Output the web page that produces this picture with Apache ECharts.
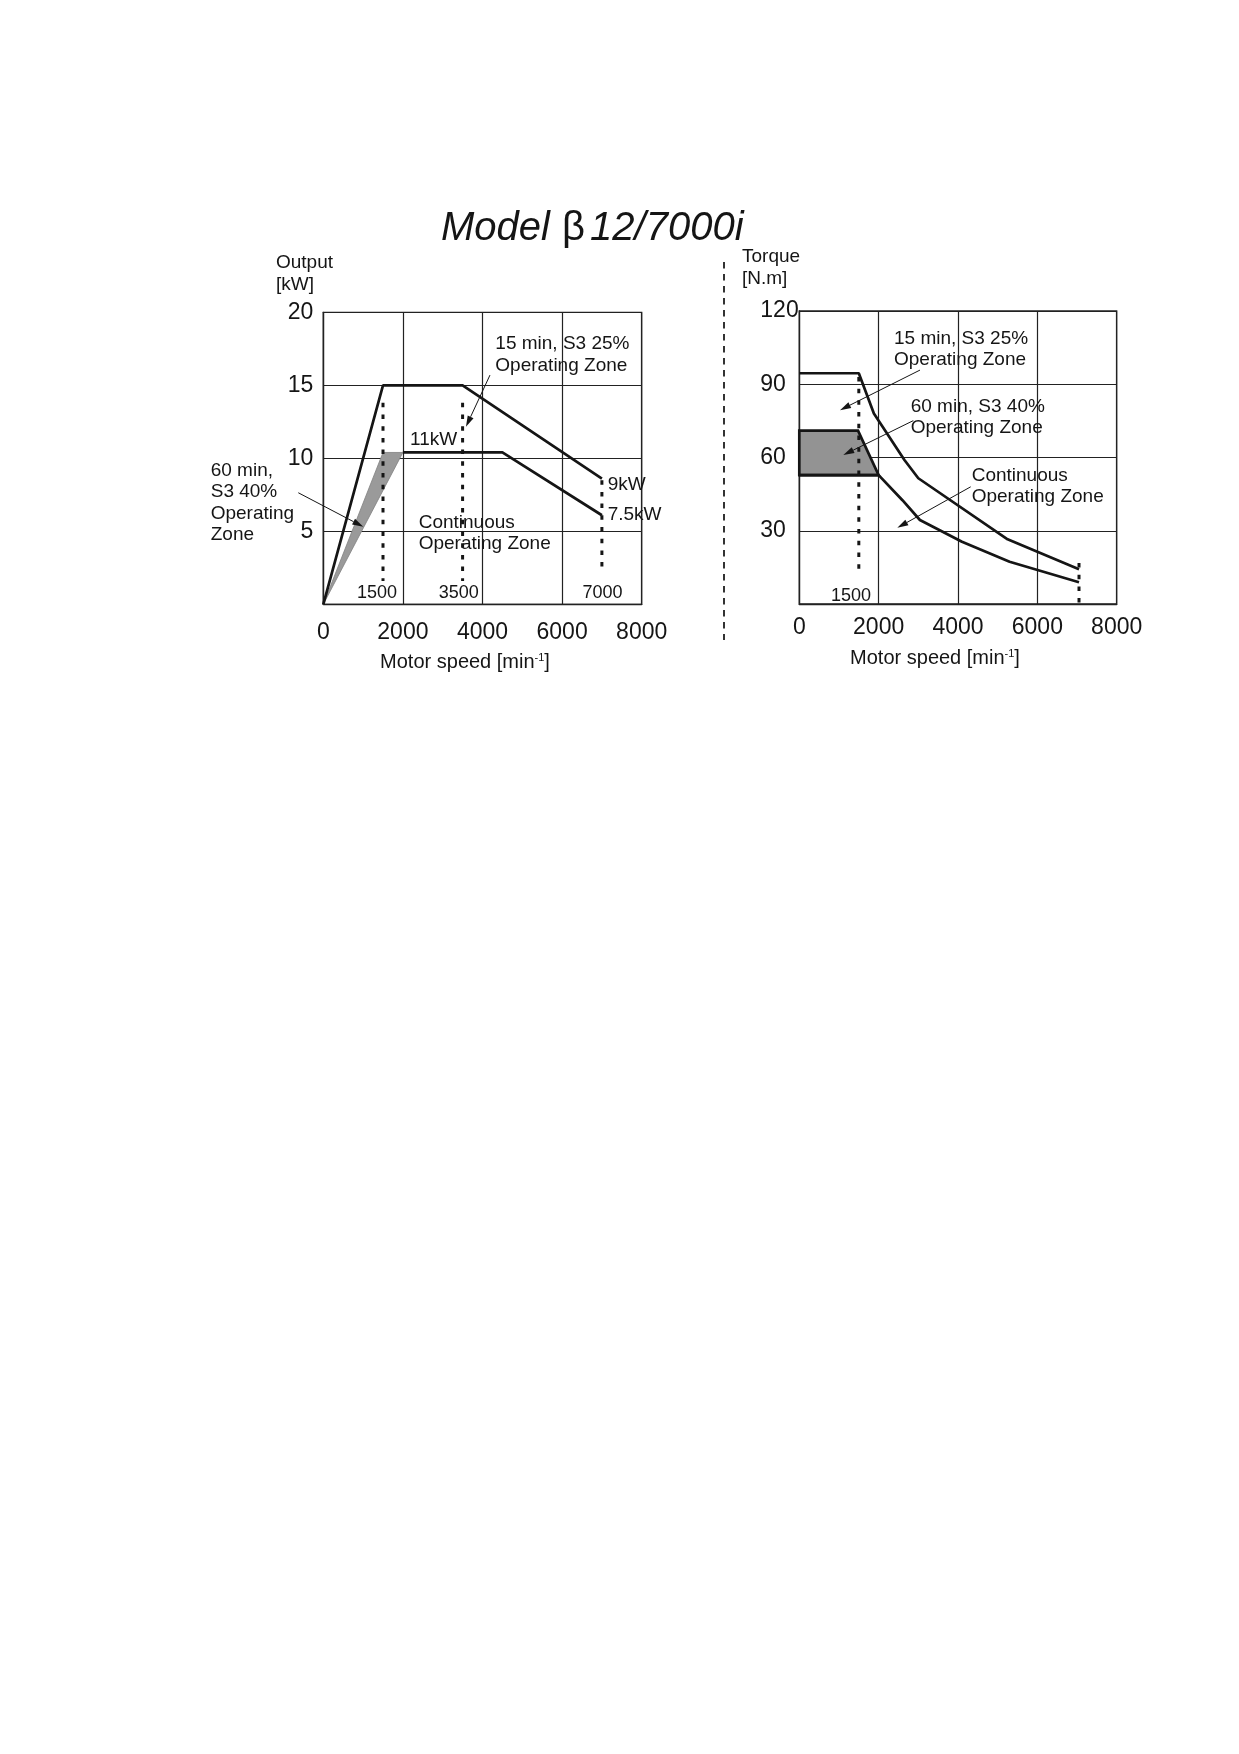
<!DOCTYPE html>
<html>
<head>
<meta charset="utf-8">
<title>Model β12/7000i</title>
<script src="https://cdn.jsdelivr.net/npm/echarts@6/dist/echarts.min.js"></script>
<style>
  html, body { margin: 0; padding: 0; background: #fff; }
  #main { width: 1239px; height: 1754px; }
</style>
</head>
<body>
<div id="main"></div>
<script>
// output chart: [speed min-1, output kW]
const outS3_25 = [[0, 0], [1500, 15], [3500, 15], [7000, 8.6]]
const outCont = [[2000, 10.4], [4500, 10.4], [7000, 6.1]]
const outS3_40 = [[0, 0], [1500, 10.4], [2000, 10.4]]
// dotted speed guides: [speed, from, to]
const outGuides = [[1500, 13.8, 1.6], [3500, 13.8, 1.6], [7000, 8.5, 2.3]]

// torque chart: [speed min-1, torque N.m]
const trqS3_25 = [[0, 94.5], [1500, 94.5], [1880, 78], [2650, 59], [3000, 51.5], [5250, 26.5], [7050, 14.2]]
const trqCont = [[0, 52.8], [2000, 52.8], [2600, 42.5], [3040, 34.4], [4100, 25.5], [5300, 17.3], [7050, 8.9]]
const trqS3_40 = [[0, 71], [1480, 71], [2000, 52.8], [0, 52.8]]
const trqGuides = [[1500, 93, 13.9], [7050, 16.8, 0.6]]

const speedMax = 8000
const speedStep = 2000
const outMax = 20
const outStep = 5
const trqMax = 120
const trqStep = 30

const FONT = '"Liberation Sans", Arial, Helvetica, sans-serif'
const INK = '#151515'
const GRIDC = '#222'

// annotations, placed in data units of each chart
const outNotes = [
  { text: '15 min, S3 25%\nOperating Zone', at: [4322, 17.1] },
  { text: '11kW', at: [2178, 11.3] },
  { text: '9kW', at: [7146, 8.17] },
  { text: '7.5kW', at: [7146, 6.12] },
  { text: 'Continuous\nOperating Zone', at: [2397, 4.86] },
  { text: '60 min,\nS3 40%\nOperating\nZone', at: [-2829, 6.94] },
  { text: '1500', at: [1349, 0.75], center: true, size: 18 },
  { text: '3500', at: [3405, 0.75], center: true, size: 18 },
  { text: '7000', at: [7015, 0.75], center: true, size: 18 }
]
const outArrows = [
  [[4188, 15.7], [3585, 12.16]],
  [[-628, 7.64], [1005, 5.31]]
]
const trqNotes = [
  { text: '15 min, S3 25%\nOperating Zone', at: [2387, 104.4] },
  { text: '60 min, S3 40%\nOperating Zone', at: [2808, 76.4] },
  { text: 'Continuous\nOperating Zone', at: [4345, 48.2] },
  { text: '1500', at: [1303, 3.4], center: true, size: 18 }
]
const trqArrows = [
  [[3042, 95.8], [1026, 79.4]],
  [[2873, 75.1], [1109, 61.0]],
  [[4320, 48.0], [2470, 31.2]]
]

function speedAxis(idx, margin, gap, pad) {
  return {
    type: 'value', gridIndex: idx, min: 0, max: speedMax, interval: speedStep,
    name: 'Motor speed [min{sup|-1}]', nameLocation: 'middle', nameGap: gap,
    nameTextStyle: {
      color: INK, fontFamily: FONT, fontSize: 20, verticalAlign: 'middle',
      padding: [0, pad, 0, 0],
      rich: { sup: { fontSize: 11, fontFamily: FONT, color: INK, verticalAlign: 'top', padding: [0, 0, 8, 0] } }
    },
    axisLine: { show: true, lineStyle: { color: GRIDC, width: 1.3 } },
    axisTick: { show: false },
    axisLabel: { color: INK, fontFamily: FONT, fontSize: 23, margin, formatter: v => String(v) },
    splitLine: { show: true, lineStyle: { color: GRIDC, width: 1.2 } }
  }
}

function valueAxis(idx, max, step, label) {
  return {
    type: 'value', gridIndex: idx, min: 0, max, interval: step,
    axisLine: { show: true, lineStyle: { color: GRIDC, width: 1.3 } },
    axisTick: { show: false },
    axisLabel: Object.assign({
      color: INK, fontFamily: FONT, fontSize: 23,
      formatter: v => (v === 0 ? '' : String(v))
    }, label),
    splitLine: { show: true, lineStyle: { color: GRIDC, width: 1.2 } }
  }
}

function curve(idx, data) {
  return {
    type: 'line', xAxisIndex: idx, yAxisIndex: idx, data,
    symbol: 'none', z: 4, animation: false,
    lineStyle: { color: INK, width: 2.7 }
  }
}

function zone(idx, pts, fill, stroke, lw) {
  return {
    type: 'custom', xAxisIndex: idx, yAxisIndex: idx, data: [0], z: 2,
    animation: false, silent: true,
    renderItem: (params, api) => ({
      type: 'polygon',
      shape: { points: pts.map(p => api.coord(p)) },
      style: { fill, stroke, lineWidth: lw, lineJoin: 'miter' }
    })
  }
}

function guides(idx, list) {
  return list.map(g => ({
    type: 'line', xAxisIndex: idx, yAxisIndex: idx,
    data: [[g[0], g[1]], [g[0], g[2]]],
    symbol: 'none', z: 5, animation: false,
    lineStyle: { color: INK, width: 3, type: [4.5, 7.2], cap: 'butt' }
  }))
}

const chart = echarts.init(document.getElementById('main'))

chart.setOption({
  backgroundColor: '#fff',
  animation: false,
  title: {
    text: 'Model {b|β}12/7000i', left: 441, top: 209, padding: 0,
    textStyle: {
      fontFamily: FONT, fontStyle: 'italic', fontWeight: 'normal', fontSize: 40, color: INK,
      rich: { b: { fontFamily: FONT, fontStyle: 'normal', fontSize: 40, color: INK, padding: [0, 5, 0, 1] } }
    }
  },
  grid: [
    { left: 323.3, top: 312.3, width: 318.4, height: 292, show: true, borderColor: GRIDC, borderWidth: 1.3, outerBoundsMode: 'none' },
    { left: 799.3, top: 311, width: 317.4, height: 293, show: true, borderColor: GRIDC, borderWidth: 1.3, outerBoundsMode: 'none' }
  ],
  xAxis: [
    speedAxis(0, 17, 58, 35),
    speedAxis(1, 12, 54, 46)
  ],
  yAxis: [
    valueAxis(0, outMax, outStep, { margin: 10 }),
    valueAxis(1, trqMax, trqStep, { margin: 39, align: 'left' })
  ],
  series: [
    zone(0, outS3_40, '#9a9a9a', '#808080', 0.8),
    curve(0, outS3_25),
    curve(0, outCont),
    ...guides(0, outGuides),
    zone(1, trqS3_40, '#939393', INK, 2.7),
    curve(1, trqS3_25),
    curve(1, trqCont),
    ...guides(1, trqGuides)
  ]
})

// texts and arrows, converted from data units to pixels
function px(idx, p) {
  return chart.convertToPixel({ gridIndex: idx }, p)
}

function noteGraphics(idx, notes) {
  return notes.map(n => {
    const p = px(idx, n.at)
    return {
      type: 'text', x: p[0], y: p[1], z: 10,
      style: {
        text: n.text, fill: INK,
        font: (n.size || 19) + 'px ' + FONT,
        align: n.center ? 'center' : 'left',
        verticalAlign: 'middle', lineHeight: 21.5
      }
    }
  })
}

function arrowGraphics(idx, arrows) {
  const out = []
  arrows.forEach(([from, to]) => {
    const a = px(idx, from)
    const b = px(idx, to)
    const ang = Math.atan2(b[1] - a[1], b[0] - a[0])
    const len = 11, half = 3.2
    const bx = b[0] - len * Math.cos(ang)
    const by = b[1] - len * Math.sin(ang)
    const nx = -Math.sin(ang) * half
    const ny = Math.cos(ang) * half
    out.push({
      type: 'line', z: 10,
      shape: { x1: a[0], y1: a[1], x2: bx, y2: by },
      style: { stroke: INK, lineWidth: 1 }
    })
    out.push({
      type: 'polygon', z: 10,
      shape: { points: [b, [bx + nx, by + ny], [bx - nx, by - ny]] },
      style: { fill: INK }
    })
  })
  return out
}

chart.setOption({
  graphic: [
    // axis captions
    {
      type: 'text', x: 276, y: 274, z: 10,
      style: { text: 'Output\n[kW]', fill: INK, font: '19px ' + FONT, align: 'left', verticalAlign: 'middle', lineHeight: 21.7 }
    },
    {
      type: 'text', x: 742, y: 267.5, z: 10,
      style: { text: 'Torque\n[N.m]', fill: INK, font: '19px ' + FONT, align: 'left', verticalAlign: 'middle', lineHeight: 21.7 }
    },
    // dashed divider between the two charts
    {
      type: 'line', z: 10,
      shape: { x1: 724, y1: 262, x2: 724, y2: 640 },
      style: { stroke: '#333', lineWidth: 2, lineDash: [6.5, 5.5] }
    },
    ...noteGraphics(0, outNotes),
    ...arrowGraphics(0, outArrows),
    ...noteGraphics(1, trqNotes),
    ...arrowGraphics(1, trqArrows)
  ]
})
</script>
</body>
</html>
